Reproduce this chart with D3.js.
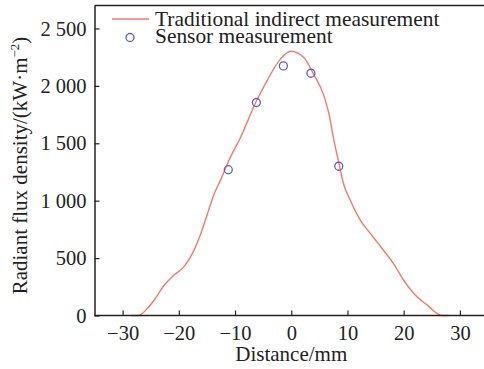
<!DOCTYPE html>
<html>
<head>
<meta charset="utf-8">
<script src="https://cdn.jsdelivr.net/npm/d3@7"></script>
<style>
  body { margin: 0; background: #fff; }
  svg { display: block; font-family: "Liberation Serif", "Times New Roman", serif; }
</style>
</head>
<body>
<div id="chart"></div>
<script>
var curveX = [-28.5, -27.2, -25.6, -24.4, -22.6, -20.9, -19.1, -17.6, -16.1, -14.9, -13.7, -12.6, -11.1, -9.0, -6.3, -4.3, -1.9, -0.1, 2.2, 4.0, 5.8, 6.7, 7.6, 8.5, 9.3, 10.5, 12.3, 14.1, 16.4, 18.2, 20.0, 21.8, 24.2, 26.8, 28.0];
var curveY = [0, 0, 61, 133, 263, 350, 423, 539, 713, 887, 1061, 1177, 1350, 1553, 1857, 2046, 2235, 2301, 2249, 2100, 1915, 1757, 1524, 1322, 1148, 1003, 829, 713, 568, 452, 307, 191, 90, 0, 0];

// sensor measurement points
var sensorX = [-11.2, -6.2, -1.4, 3.5, 8.45];
var sensorY = [1270, 1855, 2174, 2110, 1300];

var xTicks = [-30, -20, -10, 0, 10, 20, 30];
var yTicks = [0, 500, 1000, 1500, 2000, 2500];

var legendLabels = ["Traditional indirect measurement", "Sensor measurement"];

var W = 484, H = 369;
var mLeft = 94.5, mTop = 5.5, mBottom = 315.5, mRight = 488;

var svg = d3.select("#chart").append("svg")
    .attr("width", W)
    .attr("height", H);

var x = d3.scaleLinear().domain([-35, 35]).range([mLeft, mRight]);
var y = d3.scaleLinear().domain([0, 2700]).range([mBottom, mTop]);

var loc = d3.formatLocale({ decimal: ".", thousands: " ", grouping: [3], currency: ["", ""], minus: "\u2212" });
var yFmt = loc.format(",d");
var xFmt = loc.format("d");

// top frame line
svg.append("line")
    .attr("x1", mLeft).attr("x2", W)
    .attr("y1", mTop).attr("y2", mTop)
    .attr("stroke", "#222").attr("stroke-width", 1.5);

// curve
var pts = curveX.map(function (d, i) { return [d, curveY[i]]; });
svg.append("path")
    .datum(pts)
    .attr("fill", "none")
    .attr("stroke", "#f47a6e")
    .attr("stroke-width", 1.4)
    .attr("d", d3.line()
        .x(function (d) { return x(d[0]); })
        .y(function (d) { return y(d[1]); })
        .curve(d3.curveMonotoneX));

// sensor circles
svg.selectAll("circle.s")
    .data(sensorX)
    .join("circle")
    .attr("class", "s")
    .attr("cx", function (d) { return x(d); })
    .attr("cy", function (d, i) { return y(sensorY[i]); })
    .attr("r", 4)
    .attr("fill", "none")
    .attr("stroke", "#5b63b8")
    .attr("stroke-width", 1.3);

// axes
var xAxis = svg.append("g")
    .attr("transform", "translate(0," + mBottom + ")")
    .call(d3.axisBottom(x).tickValues(xTicks).tickFormat(xFmt)
        .tickSizeInner(-5).tickSizeOuter(0).tickPadding(10));
var yAxis = svg.append("g")
    .attr("transform", "translate(" + mLeft + ",0)")
    .call(d3.axisLeft(y).tickValues(yTicks).tickFormat(yFmt)
        .tickSizeInner(-5).tickSizeOuter(0).tickPadding(8));

[xAxis, yAxis].forEach(function (g) {
    g.select(".domain").attr("stroke", "#222").attr("stroke-width", 1.5);
    g.selectAll(".tick line").attr("stroke", "#222").attr("stroke-width", 1.2);
    g.selectAll("text").attr("font-size", 20.5).attr("fill", "#222")
        .attr("font-family", "Liberation Serif, Times New Roman, serif");
});
xAxis.select(".domain").attr("d", "M" + mLeft + ",0H" + W);

// axis titles
svg.append("text")
    .attr("x", x(0))
    .attr("y", 361)
    .attr("text-anchor", "middle")
    .attr("font-size", 21)
    .attr("fill", "#222")
    .text("Distance/mm");

var yl = svg.append("text")
    .attr("transform", "translate(27," + ((mTop + mBottom) / 2 + 5) + ") rotate(-90)")
    .attr("text-anchor", "middle")
    .attr("font-size", 21)
    .attr("fill", "#222");
yl.append("tspan").text("Radiant flux density/(kW\u00b7m");
yl.append("tspan").attr("dy", -8).attr("font-size", 13).text("\u22122");
yl.append("tspan").attr("dy", 8).text(")");

// legend
var lg = svg.append("g");
lg.append("line")
    .attr("x1", 112).attr("x2", 149)
    .attr("y1", 19).attr("y2", 19)
    .attr("stroke", "#f47a6e").attr("stroke-width", 1.4);
lg.append("circle")
    .attr("cx", 130).attr("cy", 37.5).attr("r", 4)
    .attr("fill", "none").attr("stroke", "#5b63b8").attr("stroke-width", 1.3);
lg.selectAll("text")
    .data(legendLabels)
    .join("text")
    .attr("x", 155)
    .attr("y", function (d, i) { return 26 + i * 17; })
    .attr("font-size", 21.4)
    .attr("fill", "#222")
    .text(function (d) { return d; });
</script>
</body>
</html>
